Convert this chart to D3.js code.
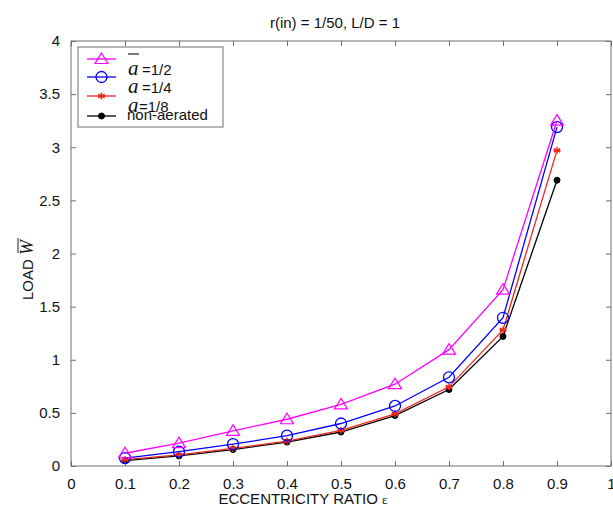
<!DOCTYPE html>
<html>
<head>
<meta charset="utf-8">
<script src="https://cdn.jsdelivr.net/npm/d3@7"></script>
<style>
  html, body { margin: 0; padding: 0; background: #fff; }
  svg { display: block; }
  text { font-family: "Liberation Sans", Arial, sans-serif; fill: #111; }
</style>
</head>
<body>
<svg id="chart" width="613" height="509"></svg>
<script>
// Eccentricity ratio (x) and dimensionless load for each aeration level
const eccentricity = [0.1, 0.2, 0.3, 0.4, 0.5, 0.6, 0.7, 0.8, 0.9];
const loadA12 = [0.12, 0.215, 0.33, 0.44, 0.58, 0.77, 1.095, 1.66, 3.25];
const loadA14 = [0.075, 0.135, 0.205, 0.285, 0.40, 0.565, 0.835, 1.395, 3.19];
const loadA18 = [0.06, 0.105, 0.165, 0.235, 0.335, 0.49, 0.745, 1.28, 2.97];
const loadNonAerated = [0.05, 0.095, 0.155, 0.225, 0.32, 0.475, 0.72, 1.22, 2.69];

const xTicks = [0, 0.1, 0.2, 0.3, 0.4, 0.5, 0.6, 0.7, 0.8, 0.9, 1];
const yTicks = [0, 0.5, 1, 1.5, 2, 2.5, 3, 3.5, 4];
const legendLabels = ["=1/2", " =1/4", "=1/8", "non-aerated"];

const series = [
  { values: loadA12, color: "#ff00ff", marker: "triangle" },
  { values: loadA14, color: "#0000ff", marker: "circle" },
  { values: loadA18, color: "#f0281c", marker: "star" },
  { values: loadNonAerated, color: "#000000", marker: "dot" }
];

const svg = d3.select("#chart");
const plot = { left: 71, right: 611, top: 41, bottom: 466 };

const x = d3.scaleLinear().domain([0, 1]).range([plot.left, plot.right]);
const y = d3.scaleLinear().domain([0, 4]).range([plot.bottom, plot.top]);

const axisColor = "#6e6e6e";
const tickLen = 5;

// Frame box
svg.append("rect")
  .attr("x", plot.left).attr("y", plot.top)
  .attr("width", plot.right - plot.left).attr("height", plot.bottom - plot.top)
  .attr("fill", "none").attr("stroke", axisColor).attr("stroke-width", 1);

// Axes with inward ticks on all four sides
function styleAxis(g) {
  g.select(".domain").remove();
  g.selectAll(".tick line").attr("stroke", axisColor);
  g.selectAll(".tick text")
    .style("font-size", "15px")
    .style("font-family", "'Liberation Sans', Arial, sans-serif")
    .attr("fill", "#111");
}

svg.append("g")
  .attr("transform", `translate(0,${plot.bottom})`)
  .call(d3.axisBottom(x).tickValues(xTicks).tickFormat(d3.format("~g"))
    .tickSizeInner(-tickLen).tickSizeOuter(0).tickPadding(12))
  .call(styleAxis);

svg.append("g")
  .attr("transform", `translate(0,${plot.top})`)
  .call(d3.axisTop(x).tickValues(xTicks).tickFormat("")
    .tickSizeInner(-tickLen).tickSizeOuter(0))
  .call(styleAxis);

svg.append("g")
  .attr("transform", `translate(${plot.left},0)`)
  .call(d3.axisLeft(y).tickValues(yTicks).tickFormat(d3.format("~g"))
    .tickSizeInner(-tickLen).tickSizeOuter(0).tickPadding(11))
  .call(styleAxis);

svg.append("g")
  .attr("transform", `translate(${plot.right},0)`)
  .call(d3.axisRight(y).tickValues(yTicks).tickFormat("")
    .tickSizeInner(-tickLen).tickSizeOuter(0))
  .call(styleAxis);

// Marker drawing helpers
function drawMarker(g, type, color, cx, cy) {
  if (type === "triangle") {
    g.append("path")
      .attr("d", `M${cx},${cy - 6} L${cx + 6.5},${cy + 4.5} L${cx - 6.5},${cy + 4.5} Z`)
      .attr("fill", "none").attr("stroke", color).attr("stroke-width", 1.2);
  } else if (type === "circle") {
    g.append("circle").attr("cx", cx).attr("cy", cy).attr("r", 5.5)
      .attr("fill", "none").attr("stroke", color).attr("stroke-width", 1.3);
  } else if (type === "star") {
    const r = 3.6;
    const d = [0, 60, 120].map(a => {
      const t = (a + 90) * Math.PI / 180;
      return `M${cx - r * Math.cos(t)},${cy - r * Math.sin(t)} L${cx + r * Math.cos(t)},${cy + r * Math.sin(t)}`;
    }).join(" ") + ` M${cx - r},${cy} L${cx + r},${cy}`;
    g.append("path").attr("d", d).attr("stroke", color).attr("stroke-width", 1.4).attr("fill", "none");
  } else {
    g.append("circle").attr("cx", cx).attr("cy", cy).attr("r", 3)
      .attr("fill", color).attr("stroke", color);
  }
}

const line = d3.line().x(d => x(d[0])).y(d => y(d[1]));

// Draw series back to front so the upper curves stay on top
series.slice().reverse().forEach(s => {
  const pts = eccentricity.map((e, i) => [e, s.values[i]]);
  const g = svg.append("g");
  g.append("path").datum(pts).attr("d", line)
    .attr("fill", "none").attr("stroke", s.color).attr("stroke-width", 1.3);
  pts.forEach(p => drawMarker(g, s.marker, s.color, x(p[0]), y(p[1])));
});

// Legend
const leg = svg.append("g");
leg.append("rect").attr("x", 78).attr("y", 47).attr("width", 145).attr("height", 80)
  .attr("fill", "#fff").attr("stroke", axisColor).attr("stroke-width", 1);

const rowY = [59, 77, 96, 116];
series.forEach((s, i) => {
  leg.append("line").attr("x1", 87).attr("x2", 116).attr("y1", rowY[i]).attr("y2", rowY[i])
    .attr("stroke", s.color).attr("stroke-width", 1.3);
  drawMarker(leg, s.marker, s.color, 101.5, rowY[i]);
});

// Overbar above the first aeration symbol
leg.append("line").attr("x1", 128).attr("x2", 139).attr("y1", 54).attr("y2", 54)
  .attr("stroke", "#222").attr("stroke-width", 1.2);

const labelRows = [
  { ya: 75, xa: 128, xt: 142, text: legendLabels[0] },
  { ya: 93, xa: 128, xt: 142, text: legendLabels[1] },
  { ya: 112, xa: 128, xt: 139, text: legendLabels[2] }
];
labelRows.forEach(r => {
  leg.append("text").attr("x", r.xa).attr("y", r.ya)
    .style("font-family", "'Liberation Serif', 'Times New Roman', serif")
    .style("font-style", "italic").style("font-size", "21px").text("a");
  leg.append("text").attr("x", r.xt).attr("y", r.ya)
    .style("font-size", "15px").text(r.text);
});
leg.append("text").attr("x", 127).attr("y", 120)
  .style("font-size", "15px").text(legendLabels[3]);

// Title
svg.append("text").attr("x", 335).attr("y", 28).attr("text-anchor", "middle")
  .style("font-size", "15px").text("r(in) = 1/50, L/D = 1");

// X axis label
const xl = svg.append("text").attr("x", 303).attr("y", 504).attr("text-anchor", "middle")
  .style("font-size", "15px");
xl.append("tspan").text("ECCENTRICITY RATIO  ");
xl.append("tspan").style("font-family", "'Liberation Serif', serif").style("font-size", "13px").text("ε");

// Y axis label
const yl = svg.append("g").attr("transform", "translate(33,270) rotate(-90)");
const ylt = yl.append("text").attr("x", 0).attr("y", 0).attr("text-anchor", "middle")
  .style("font-size", "15px");
ylt.append("tspan").text("LOAD  ");
ylt.append("tspan").style("font-family", "'Liberation Serif', serif")
  .style("font-style", "italic").style("font-size", "18px").attr("id", "wsym").text("W");
const wb = document.getElementById("wsym").getBBox();
yl.append("line").attr("x1", wb.x + 2).attr("x2", wb.x + wb.width).attr("y1", wb.y + 1).attr("y2", wb.y + 1)
  .attr("stroke", "#222").attr("stroke-width", 1);
</script>
</body>
</html>
